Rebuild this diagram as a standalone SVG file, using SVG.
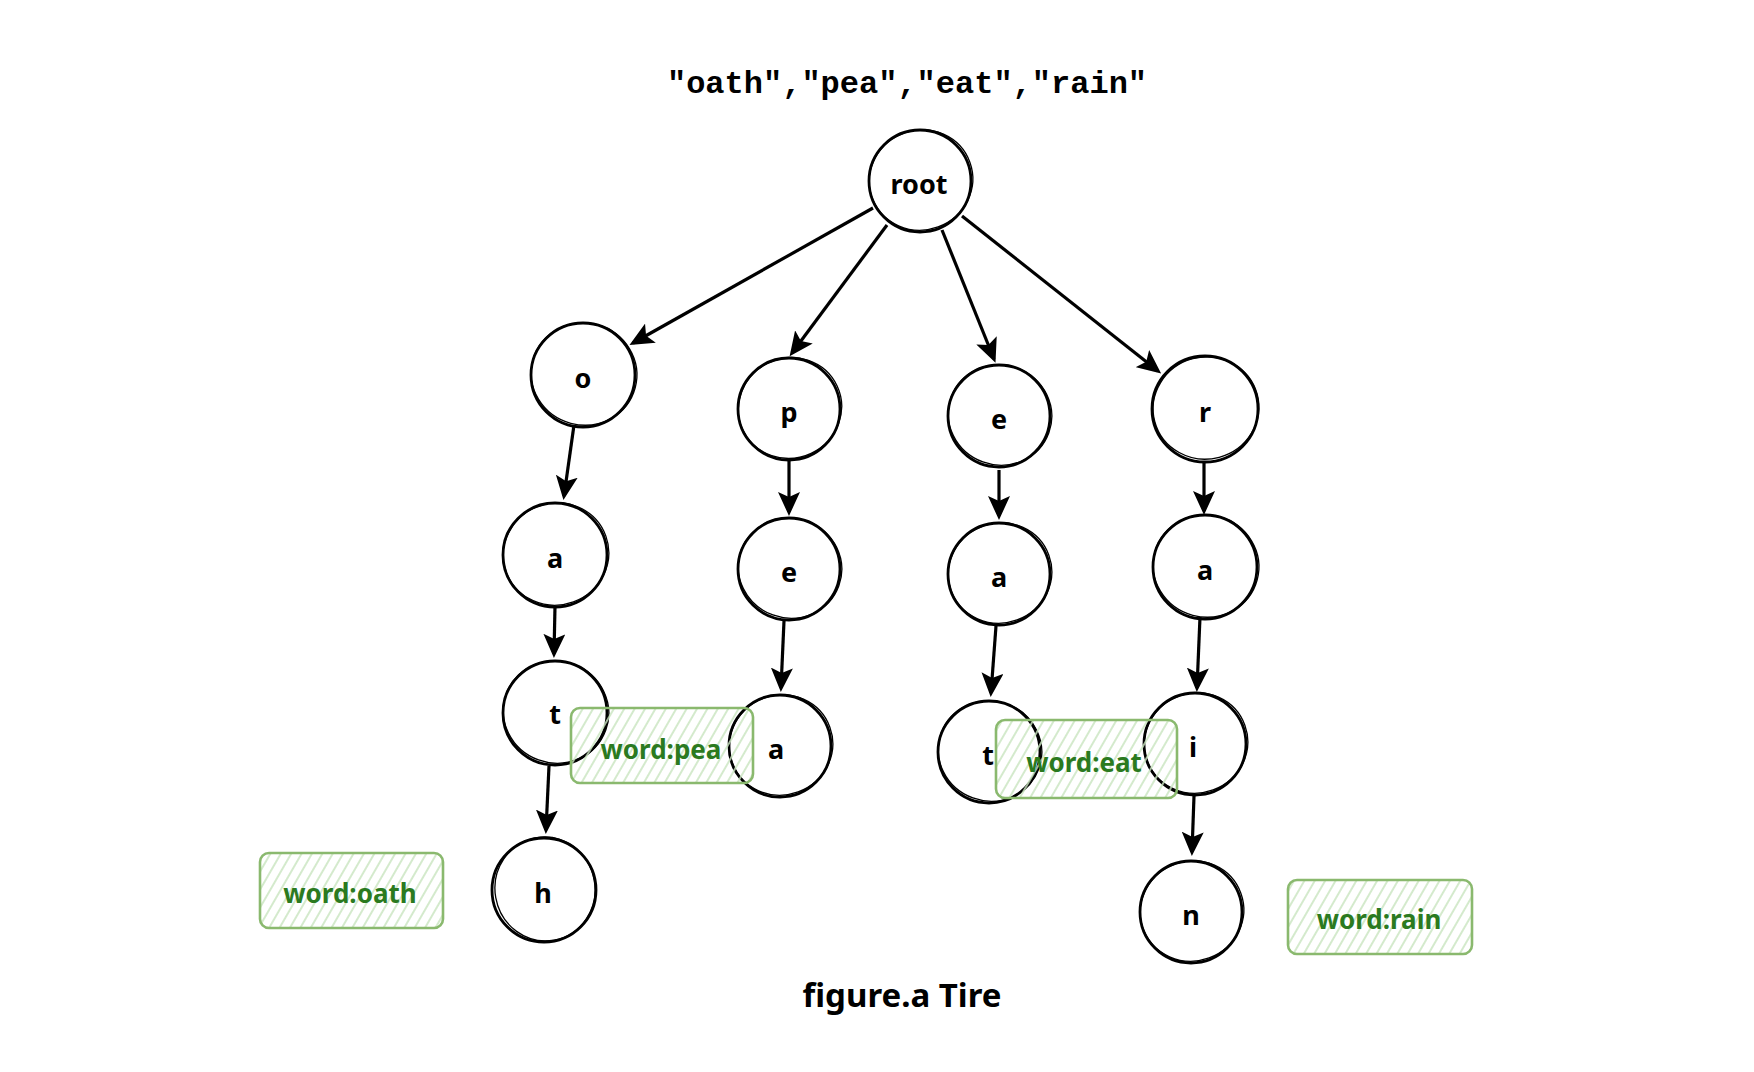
<svg xmlns="http://www.w3.org/2000/svg" width="1754" height="1072" viewBox="0 0 1754 1072">
<style>
.title{font-family:"Liberation Mono","Courier New",monospace;font-weight:bold;font-size:32px;fill:#000;text-anchor:middle}
.cap{font-family:"Noto Sans","DejaVu Sans",sans-serif;font-weight:bold;font-size:33px;fill:#000;text-anchor:middle}
.node circle{fill:none;stroke:#000;stroke-width:2.8}
.node ellipse{fill:none;stroke:#000;stroke-width:1.3}
.node text{font-family:"Noto Sans","DejaVu Sans",sans-serif;font-weight:bold;font-size:27px;fill:#000;text-anchor:middle}
.lab rect{fill:url(#hatch);stroke:#8ab96e;stroke-width:2.6}
.lab text{font-family:"Noto Sans","DejaVu Sans",sans-serif;font-weight:bold;font-size:26px;fill:#2b7a1f;text-anchor:middle}
.edges line{stroke:#000;stroke-width:3.2;marker-end:url(#arr)}
</style>
<defs>
<pattern id="hatch" patternUnits="userSpaceOnUse" width="9" height="9" patternTransform="rotate(30)">
<line x1="4" y1="0" x2="4" y2="9" stroke="#c9e5c0" stroke-width="1.6"/>
</pattern>
<marker id="arr" markerUnits="userSpaceOnUse" viewBox="0 0 24 22" markerWidth="24" markerHeight="22" refX="20" refY="11" orient="auto">
<path d="M0,0 L24,11 L0,22 L5,11 Z" fill="#000"/>
</marker>
</defs>
<rect width="1754" height="1072" fill="#fff"/>
<text class="title" x="907" y="93">"oath","pea","eat","rain"</text>
<g id="edges" class="edges">
<line x1="873" y1="208" x2="633" y2="343"/>
<line x1="887" y1="225" x2="792" y2="353"/>
<line x1="942" y1="230" x2="994" y2="359"/>
<line x1="962" y1="216" x2="1158" y2="371"/>
<line x1="574" y1="425" x2="564" y2="496"/>
<line x1="555" y1="606" x2="554" y2="654"/>
<line x1="549" y1="766" x2="546" y2="830"/>
<line x1="789" y1="461" x2="789" y2="512"/>
<line x1="784" y1="621" x2="781" y2="688"/>
<line x1="999" y1="470" x2="999" y2="516"/>
<line x1="996" y1="626" x2="991" y2="693"/>
<line x1="1204" y1="462" x2="1204" y2="511"/>
<line x1="1200" y1="617" x2="1197" y2="688"/>
<line x1="1194" y1="796" x2="1192" y2="852"/>
</g>
<g id="n-root" class="node"><circle cx="920" cy="181" r="51"/><ellipse cx="921" cy="180" rx="52" ry="50" transform="rotate(-20 921 180)"/><text x="919" y="194">root</text></g>
<g id="n-o" class="node"><circle cx="583" cy="375" r="52"/><ellipse cx="584" cy="374" rx="53" ry="51" transform="rotate(15 584 374)"/><text x="583" y="388">o</text></g>
<g id="n-p" class="node"><circle cx="789" cy="409" r="51"/><ellipse cx="790" cy="408" rx="52" ry="50" transform="rotate(-25 790 408)"/><text x="789" y="422">p</text></g>
<g id="n-e1" class="node"><circle cx="999" cy="416" r="51"/><ellipse cx="1000" cy="415" rx="52" ry="50" transform="rotate(20 1000 415)"/><text x="999" y="429">e</text></g>
<g id="n-r" class="node"><circle cx="1205" cy="409" r="53"/><ellipse cx="1206" cy="408" rx="53" ry="51" transform="rotate(-15 1206 408)"/><text x="1205" y="422">r</text></g>
<g id="n-a1" class="node"><circle cx="555" cy="555" r="52"/><ellipse cx="556" cy="554" rx="53" ry="51" transform="rotate(-20 556 554)"/><text x="555" y="568">a</text></g>
<g id="n-e2" class="node"><circle cx="789" cy="569" r="51"/><ellipse cx="790" cy="568" rx="52" ry="50" transform="rotate(20 790 568)"/><text x="789" y="582">e</text></g>
<g id="n-a3" class="node"><circle cx="999" cy="574" r="51"/><ellipse cx="1000" cy="573" rx="52" ry="50" transform="rotate(-20 1000 573)"/><text x="999" y="587">a</text></g>
<g id="n-a4" class="node"><circle cx="1205" cy="567" r="52"/><ellipse cx="1206" cy="566" rx="53" ry="51" transform="rotate(15 1206 566)"/><text x="1205" y="580">a</text></g>
<g id="n-t1" class="node"><circle cx="555" cy="713" r="52"/><ellipse cx="556" cy="712" rx="53" ry="51" transform="rotate(20 556 712)"/><text x="555" y="724">t</text></g>
<g id="n-a2" class="node"><circle cx="780" cy="746" r="51"/><ellipse cx="781" cy="745" rx="52" ry="50" transform="rotate(-20 781 745)"/><text x="776" y="759">a</text></g>
<g id="n-t3" class="node"><circle cx="989" cy="752" r="51"/><ellipse cx="990" cy="751" rx="52" ry="50" transform="rotate(20 990 751)"/><text x="988" y="765">t</text></g>
<g id="n-i" class="node"><circle cx="1195" cy="744" r="51"/><ellipse cx="1196" cy="743" rx="52" ry="50" transform="rotate(-20 1196 743)"/><text x="1193" y="757">i</text></g>
<g id="n-h" class="node"><circle cx="544" cy="890" r="52"/><ellipse cx="545" cy="889" rx="52" ry="50" transform="rotate(80 545 889)"/><text x="543" y="903">h</text></g>
<g id="n-n" class="node"><circle cx="1191" cy="912" r="51"/><ellipse cx="1192" cy="911" rx="52" ry="50" transform="rotate(-20 1192 911)"/><text x="1191" y="925">n</text></g>
<g id="l-pea" class="lab"><rect x="571" y="708" width="182" height="75" rx="9"/><text x="661" y="759">word:pea</text></g>
<g id="l-eat" class="lab"><rect x="996" y="720" width="181" height="78" rx="9"/><text x="1084" y="772">word:eat</text></g>
<g id="l-oath" class="lab"><rect x="260" y="853" width="183" height="75" rx="9"/><text x="350" y="903">word:oath</text></g>
<g id="l-rain" class="lab"><rect x="1288" y="880" width="184" height="74" rx="9"/><text x="1379" y="929">word:rain</text></g>
<text class="cap" x="902" y="1007">figure.a Tire</text>
</svg>
